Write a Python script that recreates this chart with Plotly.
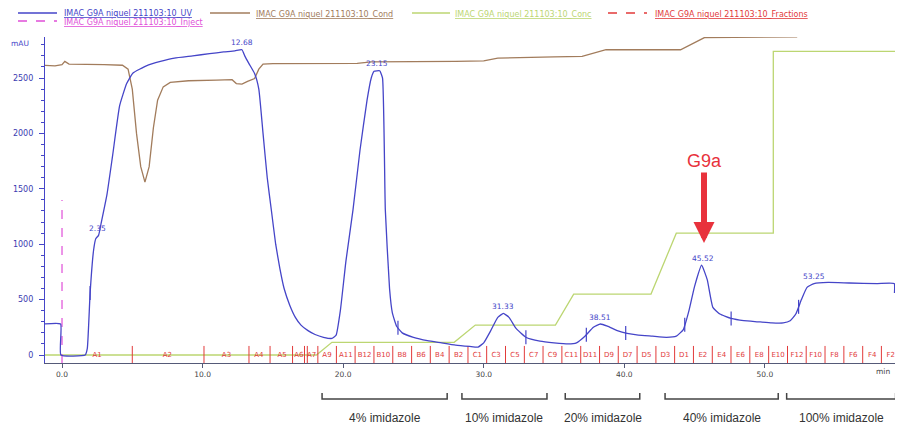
import numpy as np
import plotly.graph_objects as go

# ---------------- data ----------------
UV_T = [-1.25, -0.1, -0.08, 1.65, 1.8, 2.0, 2.25, 2.4, 2.6, 2.8, 3.2, 3.6, 4.1, 4.6, 5.05, 6.0, 7.0, 8.0, 9.3,
        10.5, 11.5, 12.3, 12.8, 13.0, 13.3, 13.7, 14.0, 14.3, 14.6, 14.9, 15.2, 15.5, 15.8, 16.2, 16.6, 17.0,
        17.5, 18.0, 18.6, 19.2, 19.5, 19.8, 20.2, 20.7, 21.2, 21.7, 22.0, 22.2, 22.6, 22.8, 23.0, 23.3, 23.5,
        23.8, 24.2, 25.0, 26.0, 27.0, 28.0, 29.0, 29.6, 30.0, 30.5, 31.0, 31.4, 31.8, 32.3, 33.0, 34.0, 35.0,
        36.0, 36.6, 37.2, 37.8, 38.3, 38.8, 39.5, 40.2, 41.0, 42.0, 43.0, 43.7, 44.2, 44.6, 45.0, 45.5, 45.9,
        46.3, 46.8, 47.6, 48.5, 49.5, 50.5, 51.3, 51.8, 52.2, 52.6, 53.0, 53.5, 54.5, 56.0, 58.0, 59.2, 59.22]
UV_V = [280, 280, 0, 0, 60, 560, 950, 1050, 1080, 1200, 1450, 1800, 2250, 2450, 2545, 2610, 2650, 2680, 2700,
        2720, 2735, 2745, 2755, 2700, 2630, 2540, 2400, 2000, 1600, 1300, 1000, 780, 600, 450, 340, 270,
        220, 185, 160, 150, 180, 400, 850, 1310, 1850, 2300, 2500, 2560, 2565, 2500, 1310, 600, 380,
        260, 200, 160, 130, 110, 90, 78, 72, 110, 220, 340, 375, 340, 240, 160, 125, 110,
        100, 110, 170, 250, 280, 260, 220, 195, 180, 170, 160, 170, 230, 400, 620, 810, 680,
        430, 370, 330, 310, 300, 290, 290, 310, 370, 500, 610, 645, 655, 650, 645, 645, 560]

UV_EVENT_T = [2.0, 23.9, 33.0, 37.3, 40.1, 44.3, 47.6, 52.4]

COND_T = [-1.25, -0.5, 0.0, 0.2, 0.5, 1.0, 3.0, 4.3, 4.7, 5.0, 5.3, 5.6, 5.9, 6.2, 6.5, 6.8, 7.2, 7.7, 9.0,
          11.0, 12.1, 12.4, 12.8, 13.2, 13.7, 14.0, 14.3, 15.0, 18.0, 21.0, 22.0, 25.0, 28.0, 30.0, 31.0, 35.0,
          37.0, 38.7, 44.0, 45.7, 48.0, 52.3]
COND_V = [2615, 2610, 2620, 2650, 2625, 2625, 2620, 2615, 2580, 2400, 2000, 1700, 1560, 1700, 2050, 2300, 2420,
          2460, 2475, 2480, 2485, 2450, 2445, 2470, 2495, 2580, 2625, 2630, 2630, 2632, 2645, 2645, 2650, 2655,
          2680, 2690, 2695, 2755, 2755, 2865, 2868, 2872]

CONC_T = [-1.25, 18.1, 19.2, 27.9, 29.4, 35.1, 36.4, 41.9, 43.7, 50.6, 50.6, 59.3]
CONC_V = [0, 0, 115, 115, 270, 270, 550, 550, 1100, 1100, 2740, 2740]

INJECT_T = [0.0, 0.0]
INJECT_V = [-72, 1400]

PEAK_LABELS = ["2.35", "12.68", "23.15", "31.33", "38.51", "45.52", "53.25"]
PEAK_T = [2.5, 12.8, 22.4, 31.4, 38.3, 45.6, 53.5]
PEAK_V = [1080, 2755, 2565, 375, 280, 810, 645]

FRAC_LABELS = ["A1", "A2", "A3", "A4", "A5", "A6", "A7", "A9", "A11", "B12", "B10", "B8", "B6", "B4", "B2",
               "C1", "C3", "C5", "C7", "C9", "C11", "D11", "D9", "D7", "D5", "D3", "D1", "E2", "E4", "E6",
               "E8", "E10", "F12", "F10", "F8", "F6", "F4", "F2"]
FRAC_LABEL_T = [2.5, 7.5, 11.7, 14.0, 15.65, 16.85, 17.75, 18.85, 20.19, 21.52, 22.86, 24.20, 25.54, 26.87,
                28.21, 29.55, 30.88, 32.22, 33.56, 34.89, 36.23, 37.57, 38.91, 40.24, 41.58, 42.92, 44.25,
                45.59, 46.93, 48.26, 49.60, 50.94, 52.28, 53.61, 54.95, 56.29, 57.63, 58.96]
FRAC_TICK_T = [5.0, 10.1, 13.3, 14.8, 16.4, 17.25, 17.45, 18.2, 19.52, 20.85, 22.19, 23.53, 24.87, 26.2,
               27.54, 28.88, 30.21, 31.55, 32.89, 34.22, 35.56, 36.9, 38.24, 39.57, 40.91, 42.25, 43.58,
               44.92, 46.26, 47.59, 48.93, 50.27, 51.61, 52.94, 54.28, 55.62, 56.96, 58.29]

IMID_LABELS = ["4% imidazole", "10% imidazole", "20% imidazole", "40% imidazole", "100% imidazole"]
IMID_START = [18.5, 28.45, 35.8, 42.9, 51.55]
IMID_END = [27.4, 34.5, 41.1, 50.95, 59.3]

X_TICKS = [0, 10, 20, 30, 40, 50]
X_TICKTEXT = ["0.0", "10.0", "20.0", "30.0", "40.0", "50.0"]
Y_TICKS = [0, 500, 1000, 1500, 2000, 2500]

LEGEND_NAME = "IMAC G9A niquel 211103:10"

# ---------------- styles ----------------
BLUE = "#4545c8"
BROWN = "#a27c5c"
GREEN = "#bcd672"
RED = "#e23a3a"
MAGENTA = "#e04fd8"
FONT = "DejaVu Sans, Verdana, sans-serif"
FONT2 = "Liberation Sans, Arial, sans-serif"

W, H = 903, 428
OFF = 8  # page body margin of the html page
PLOT_L, PLOT_T, PLOT_R, PLOT_B = 45, 37, 897, 363   # plot area in page pixels
PW, PH = PLOT_R - PLOT_L, PLOT_B - PLOT_T
ML, MT = PLOT_L - OFF, PLOT_T - OFF
MR, MB = W - ML - PW, H - MT - PH


def px(xp):
    return (xp - PLOT_L) / PW


def py(yp):
    return (PLOT_B - yp) / PH


fig = go.Figure()

# conc (green)
fig.add_trace(go.Scatter(x=CONC_T, y=CONC_V, mode="lines", line=dict(color=GREEN, width=1.3),
                         hoverinfo="skip", showlegend=False))
# fraction ticks (red)
fx, fy = [], []
for t in FRAC_TICK_T:
    fx += [t, t, None]
    fy += [-72, 82, None]
fig.add_trace(go.Scatter(x=fx, y=fy, mode="lines", line=dict(color=RED, width=1),
                         hoverinfo="skip", showlegend=False))
fig.add_trace(go.Scatter(x=FRAC_LABEL_T, y=[0] * len(FRAC_LABEL_T), mode="text", text=FRAC_LABELS,
                         textfont=dict(color=RED, size=7, family=FONT), hoverinfo="skip", showlegend=False))
# cond (brown)
fig.add_trace(go.Scatter(x=COND_T, y=COND_V, mode="lines", line=dict(color=BROWN, width=1.3),
                         hoverinfo="skip", showlegend=False))
# inject (magenta)
fig.add_trace(go.Scatter(x=INJECT_T, y=INJECT_V, mode="lines", line=dict(color=MAGENTA, width=1.2, dash="dash"),
                         hoverinfo="skip", showlegend=False))
# UV (blue)
fig.add_trace(go.Scatter(x=UV_T, y=UV_V, mode="lines", line=dict(color=BLUE, width=1.3, shape="spline",
                                                                 smoothing=0.4),
                         hoverinfo="skip", showlegend=False))
# UV event marks
fig.add_trace(go.Scatter(x=UV_EVENT_T, y=np.interp(UV_EVENT_T, UV_T, UV_V), mode="markers",
                         marker=dict(symbol="line-ns", size=10, line=dict(color=BLUE, width=1.2)),
                         hoverinfo="skip", showlegend=False))

annotations = []
shapes = []

# peak labels
for lab, t, v in zip(PEAK_LABELS, PEAK_T, PEAK_V):
    annotations.append(dict(x=t, y=v, text=lab, showarrow=False, yshift=7, xanchor="center", yanchor="middle",
                            font=dict(color=BLUE, size=7.5, family=FONT)))

# G9a arrow
annotations.append(dict(x=45.67, y=1010, text="G9a", showarrow=True, ax=0, ay=-82,
                        arrowhead=2, arrowsize=0.7, arrowwidth=6, arrowcolor="#e8323c",
                        font=dict(color="#e8323c", size=18, family=FONT2)))

# y unit and x unit
annotations.append(dict(xref="paper", yref="paper", x=px(20), y=py(43), text="mAU", showarrow=False,
                        xanchor="center", yanchor="middle", font=dict(color=BLUE, size=7.5, family=FONT)))
annotations.append(dict(xref="paper", yref="paper", x=px(883), y=py(371), text="min", showarrow=False,
                        xanchor="center", yanchor="middle", font=dict(color="#444", size=7.5, family=FONT)))

# imidazole brackets
for lab, s, e in zip(IMID_LABELS, IMID_START, IMID_END):
    shapes.append(dict(type="path", xref="x", yref="paper",
                       path=f"M {s},{py(393)} L {s},{py(399)} L {e},{py(399)} L {e},{py(393)}",
                       line=dict(color="#444", width=1.5)))
    annotations.append(dict(xref="x", yref="paper", x=(s + e) / 2, y=py(418), text=lab, showarrow=False,
                            xanchor="center", yanchor="middle",
                            font=dict(color="#333", size=12, family=FONT2)))

# manual legend
legend_items = [
    ("UV", BLUE, "solid", 18, 57, 13, 62, 14),
    ("Inject", MAGENTA, "dash", 18, 57, 21, 62, 22.5),
    ("Cond", BROWN, "solid", 210, 250, 13, 254, 15),
    ("Conc", GREEN, "solid", 412, 450, 13, 453, 15),
    ("Fractions", RED, "dash", 608, 647, 13, 653, 15),
]
for name, col, dash, x0, x1, yl, xt, yt in legend_items:
    shapes.append(dict(type="line", xref="paper", yref="paper", x0=px(x0), x1=px(x1), y0=py(yl), y1=py(yl),
                       line=dict(color=col, width=1.3, dash=dash)))
    annotations.append(dict(xref="paper", yref="paper", x=px(xt), y=py(yt), xanchor="left", yanchor="middle",
                            text=f"<u>{LEGEND_NAME}_{name}</u>", showarrow=False,
                            font=dict(color=col, size=8, family=FONT)))

fig.update_layout(
    width=W, height=H,
    margin=dict(l=ML, r=MR, t=MT, b=MB, autoexpand=False),
    paper_bgcolor="white", plot_bgcolor="white",
    showlegend=False,
    annotations=annotations,
    shapes=shapes,
    xaxis=dict(range=[-1.21, 59.4], showgrid=False, zeroline=False, showline=True, linecolor="#555a78",
               linewidth=1.2, ticks="outside", ticklen=4, tickcolor="#555a78", tickvals=X_TICKS,
               ticktext=X_TICKTEXT, tickfont=dict(color="#444", size=7.5, family=FONT), automargin=False),
    yaxis=dict(range=[-72, 2870], showgrid=False, zeroline=False, showline=True, linecolor=BLUE,
               linewidth=1.2, ticks="outside", ticklen=5, tickcolor=BLUE, tickvals=Y_TICKS,
               tickfont=dict(color="#3a3ab0", size=8, family=FONT), ticklabelstandoff=4, automargin=False,
               minor=dict(ticks="outside", ticklen=3, tickcolor=BLUE, dtick=100, tick0=0)),
)

fig.write_html("out.html")
